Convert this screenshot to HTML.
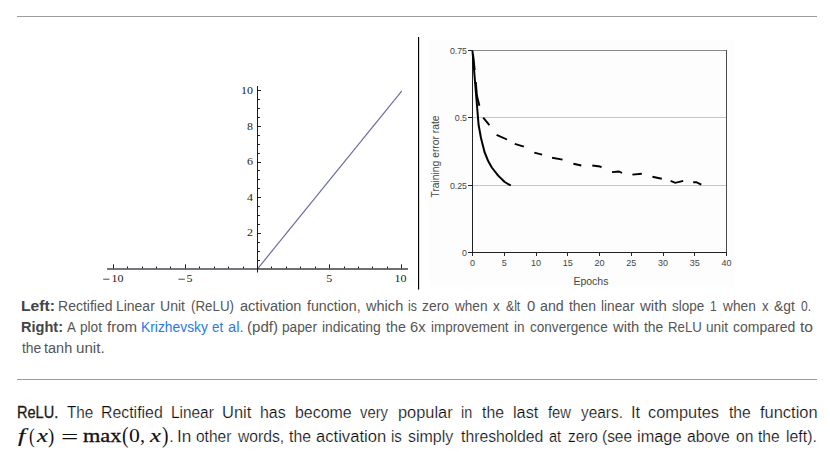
<!DOCTYPE html>
<html><head><meta charset="utf-8"><title>ReLU</title>
<style>
html,body{margin:0;padding:0;background:#fff;}
body{width:830px;height:452px;position:relative;overflow:hidden;font-family:"Liberation Sans",sans-serif;}
.hr{position:absolute;left:17px;width:800px;height:1px;background:#9c9c9c;}
.w{position:absolute;white-space:nowrap;transform-origin:0 0;line-height:normal;margin:0;padding:0;}
.c{font-size:14px;color:#555;}
b.c{color:#444;}
a.c{color:#2a7ae2;text-decoration:none;}
.p{font-size:16px;color:#0a0a0a;-webkit-text-stroke:0.22px #fff;}
b.p{color:#1a1a1a;}
b.med{font-weight:normal;-webkit-text-stroke:0.3px #1a1a1a;}
.m{position:absolute;white-space:nowrap;font-family:"Liberation Serif",serif;color:#111;line-height:normal;}
svg{position:absolute;left:0;top:0;}
</style></head><body>
<div class="hr" style="top:16px"></div>
<svg width="830" height="300" viewBox="0 0 830 300">
<rect x="429" y="40" width="306" height="247.3" fill="#fdfdfd"/>
<rect x="418" y="37" width="1.15" height="252.6" fill="#000"/>
<polyline points="257.5,268.9 401.7,91.2" fill="none" stroke="#6c6ca4" stroke-width="1.2"/>
<line x1="107" y1="268.9" x2="257.5" y2="268.9" stroke="#2e2e44" stroke-width="1.55" stroke-opacity="0.88"/>
<line x1="257.5" y1="268.9" x2="408" y2="268.9" stroke="#2a2a2a" stroke-width="1.5" stroke-opacity="0.9"/>
<g stroke="#1c1c1c" stroke-width="1">
<line x1="257.5" y1="86" x2="257.5" y2="272.5"/>
<line x1="113.5" y1="268.4" x2="113.5" y2="264.3"/>
<line x1="127.5" y1="268.4" x2="127.5" y2="266.5"/>
<line x1="142.5" y1="268.4" x2="142.5" y2="266.5"/>
<line x1="156.5" y1="268.4" x2="156.5" y2="266.5"/>
<line x1="170.5" y1="268.4" x2="170.5" y2="266.5"/>
<line x1="185.5" y1="268.4" x2="185.5" y2="264.3"/>
<line x1="199.5" y1="268.4" x2="199.5" y2="266.5"/>
<line x1="214.5" y1="268.4" x2="214.5" y2="266.5"/>
<line x1="228.5" y1="268.4" x2="228.5" y2="266.5"/>
<line x1="243.5" y1="268.4" x2="243.5" y2="266.5"/>
<line x1="271.5" y1="268.4" x2="271.5" y2="266.5"/>
<line x1="286.5" y1="268.4" x2="286.5" y2="266.5"/>
<line x1="300.5" y1="268.4" x2="300.5" y2="266.5"/>
<line x1="315.5" y1="268.4" x2="315.5" y2="266.5"/>
<line x1="329.5" y1="268.4" x2="329.5" y2="264.3"/>
<line x1="344.5" y1="268.4" x2="344.5" y2="266.5"/>
<line x1="358.5" y1="268.4" x2="358.5" y2="266.5"/>
<line x1="372.5" y1="268.4" x2="372.5" y2="266.5"/>
<line x1="387.5" y1="268.4" x2="387.5" y2="266.5"/>
<line x1="401.5" y1="268.4" x2="401.5" y2="264.3"/>
<line x1="258" y1="260.5" x2="259.9" y2="260.5"/>
<line x1="258" y1="251.5" x2="259.9" y2="251.5"/>
<line x1="258" y1="242.5" x2="259.9" y2="242.5"/>
<line x1="258" y1="233.5" x2="260.9" y2="233.5"/>
<line x1="258" y1="224.5" x2="259.9" y2="224.5"/>
<line x1="258" y1="215.5" x2="259.9" y2="215.5"/>
<line x1="258" y1="206.5" x2="259.9" y2="206.5"/>
<line x1="258" y1="197.5" x2="260.9" y2="197.5"/>
<line x1="258" y1="188.5" x2="259.9" y2="188.5"/>
<line x1="258" y1="179.5" x2="259.9" y2="179.5"/>
<line x1="258" y1="170.5" x2="259.9" y2="170.5"/>
<line x1="258" y1="162.5" x2="260.9" y2="162.5"/>
<line x1="258" y1="153.5" x2="259.9" y2="153.5"/>
<line x1="258" y1="144.5" x2="259.9" y2="144.5"/>
<line x1="258" y1="135.5" x2="259.9" y2="135.5"/>
<line x1="258" y1="126.5" x2="260.9" y2="126.5"/>
<line x1="258" y1="117.5" x2="259.9" y2="117.5"/>
<line x1="258" y1="108.5" x2="259.9" y2="108.5"/>
<line x1="258" y1="99.5" x2="259.9" y2="99.5"/>
<line x1="258" y1="90.5" x2="260.9" y2="90.5"/>
</g>
<g font-family="Liberation Serif, serif" font-size="10" fill="#1c1c1c" text-anchor="end">
<text transform="translate(252.9,236.4) scale(1.2,1)">2</text>
<text transform="translate(252.9,200.8) scale(1.2,1)">4</text>
<text transform="translate(252.9,165.2) scale(1.2,1)">6</text>
<text transform="translate(252.9,129.6) scale(1.2,1)">8</text>
<text transform="translate(252.9,94.0) scale(1.2,1)">10</text>
</g>
<g font-family="Liberation Serif, serif" font-size="10" fill="#1c1c1c" text-anchor="middle">
<text transform="translate(117.4,281.7) scale(1.2,1)">10</text>
<text transform="translate(189.5,281.7) scale(1.2,1)">5</text>
<text transform="translate(329.2,281.7) scale(1.2,1)">5</text>
<text transform="translate(400.5,281.7) scale(1.2,1)">10</text>
</g>
<rect x="103.2" y="278.75" width="6.2" height="0.85" fill="#2a2a2a"/>
<rect x="178.4" y="278.75" width="6.4" height="0.85" fill="#2a2a2a"/>
<g shape-rendering="crispEdges" stroke-width="1">
<line x1="473" y1="117.5" x2="727" y2="117.5" stroke="#c6c6c6"/>
<line x1="473" y1="185.5" x2="727" y2="185.5" stroke="#c6c6c6"/>
<line x1="473" y1="50.5" x2="727" y2="50.5" stroke="#8a8a8a"/>
<line x1="726.5" y1="50" x2="726.5" y2="253" stroke="#4a4a4a"/>
<line x1="472.5" y1="50" x2="472.5" y2="253" stroke="#222"/>
<line x1="468" y1="252.5" x2="727" y2="252.5" stroke="#222"/>
<line x1="468" y1="50.5" x2="472" y2="50.5" stroke="#222"/>
<line x1="468" y1="117.5" x2="472" y2="117.5" stroke="#222"/>
<line x1="468" y1="185.5" x2="472" y2="185.5" stroke="#222"/>
<line x1="472.5" y1="253" x2="472.5" y2="255.6" stroke="#222"/>
<line x1="504.5" y1="253" x2="504.5" y2="255.6" stroke="#222"/>
<line x1="536.5" y1="253" x2="536.5" y2="255.6" stroke="#222"/>
<line x1="567.5" y1="253" x2="567.5" y2="255.6" stroke="#222"/>
<line x1="599.5" y1="253" x2="599.5" y2="255.6" stroke="#222"/>
<line x1="631.5" y1="253" x2="631.5" y2="255.6" stroke="#222"/>
<line x1="663.5" y1="253" x2="663.5" y2="255.6" stroke="#222"/>
<line x1="694.5" y1="253" x2="694.5" y2="255.6" stroke="#222"/>
<line x1="726.5" y1="253" x2="726.5" y2="255.6" stroke="#222"/>
</g>
<polyline points="472.5,51 478.6,125 481,138 484.5,152 488.3,161.3 491.8,167.5 498.2,175.6 504.7,182 510.8,185.5" fill="none" stroke="#000" stroke-width="2" stroke-linejoin="round"/>
<g stroke="#000" stroke-width="1.9" fill="none">
<polyline points="473,54 474.7,70"/>
<polyline points="475.8,82 476.9,95.6 479.4,105.7"/>
<polyline points="483.2,117.6 489.4,125.1"/>
<polyline points="496.6,134.8 507,139.5"/>
<polyline points="514.8,143.9 523.9,146.7"/>
<polyline points="534.3,152.7 542.1,154.6"/>
<polyline points="552.1,157.7 562.5,159.6"/>
<polyline points="573.4,163.7 581.3,165.5"/>
<polyline points="592.3,165.5 600,166.5 601.5,167.4"/>
<polyline points="612,172.1 619,171.5 622,173"/>
<polyline points="632.4,174.6 641.8,173.7"/>
<polyline points="652.4,176.8 661.8,178.7"/>
<polyline points="670.6,180.9 675.3,182.8 683.2,180.9"/>
<polyline points="693.2,182.2 696.3,182.2 701.3,184.7"/>
</g>
<g font-family="Liberation Sans, sans-serif" font-size="8.8" fill="#454545" text-anchor="end">
<text x="467" y="53.5">0.75</text>
<text x="467" y="120.5">0.5</text>
<text x="467" y="188.5">0.25</text>
<text x="467" y="255.5">0</text>
</g>
<g font-family="Liberation Sans, sans-serif" font-size="9" fill="#454545" text-anchor="middle">
<text x="472.5" y="265.8">0</text>
<text x="504.2" y="265.8">5</text>
<text x="536.0" y="265.8">10</text>
<text x="567.8" y="265.8">15</text>
<text x="599.5" y="265.8">20</text>
<text x="631.2" y="265.8">25</text>
<text x="663.0" y="265.8">30</text>
<text x="694.8" y="265.8">35</text>
<text x="726.5" y="265.8">40</text>
</g>
<text x="590.9" y="284.7" font-family="Liberation Sans, sans-serif" font-size="10.5" fill="#454545" text-anchor="middle">Epochs</text>
<text transform="translate(439.3,156.5) rotate(-90)" font-family="Liberation Sans, sans-serif" font-size="10.3" fill="#454545" text-anchor="middle">Training error rate</text>
</svg>
<b class="w c" style="left:20.65px;top:297.60px;transform-origin:0 13px;transform:scale(1.1198,1.06)">Left:</b>
<span class="w c" style="left:57.75px;top:297.60px;transform-origin:0 13px;transform:scale(1.0016,1.06)">Rectified</span>
<span class="w c" style="left:116.26px;top:297.60px;transform-origin:0 13px;transform:scale(0.9964,1.06)">Linear</span>
<span class="w c" style="left:160.22px;top:297.60px;transform-origin:0 13px;transform:scale(1.0036,1.06)">Unit</span>
<span class="w c" style="left:190.87px;top:297.60px;transform-origin:0 13px;transform:scale(0.9543,1.06)">(ReLU)</span>
<span class="w c" style="left:239.58px;top:297.60px;transform-origin:0 13px;transform:scale(1.0392,1.06)">activation</span>
<span class="w c" style="left:306.80px;top:297.60px;transform-origin:0 13px;transform:scale(1.0123,1.06)">function,</span>
<span class="w c" style="left:365.52px;top:297.60px;transform-origin:0 13px;transform:scale(1.0400,1.06)">which</span>
<span class="w c" style="left:407.78px;top:297.60px;transform-origin:0 13px;transform:scale(0.8768,1.06)">is</span>
<span class="w c" style="left:422.24px;top:297.60px;transform-origin:0 13px;transform:scale(0.9893,1.06)">zero</span>
<span class="w c" style="left:455.02px;top:297.60px;transform-origin:0 13px;transform:scale(0.9699,1.06)">when</span>
<span class="w c" style="left:493.05px;top:297.60px;transform-origin:0 13px;transform:scale(0.9713,1.06)">x</span>
<span class="w c" style="left:505.87px;top:297.60px;transform-origin:0 13px;transform:scale(0.8702,1.06)">&amp;lt</span>
<span class="w c" style="left:526.52px;top:297.60px;transform-origin:0 13px;transform:scale(1.0609,1.06)">0</span>
<span class="w c" style="left:540.20px;top:297.60px;transform-origin:0 13px;transform:scale(1.0155,1.06)">and</span>
<span class="w c" style="left:569.49px;top:297.60px;transform-origin:0 13px;transform:scale(0.9951,1.06)">then</span>
<span class="w c" style="left:601.18px;top:297.60px;transform-origin:0 13px;transform:scale(0.9769,1.06)">linear</span>
<span class="w c" style="left:640.32px;top:297.60px;transform-origin:0 13px;transform:scale(1.0747,1.06)">with</span>
<span class="w c" style="left:672.32px;top:297.60px;transform-origin:0 13px;transform:scale(0.9644,1.06)">slope</span>
<span class="w c" style="left:710.24px;top:297.60px;transform-origin:0 13px;transform:scale(0.8600,1.06)">1</span>
<span class="w c" style="left:722.72px;top:297.60px;transform-origin:0 13px;transform:scale(0.9791,1.06)">when</span>
<span class="w c" style="left:761.55px;top:297.60px;transform-origin:0 13px;transform:scale(0.9414,1.06)">x</span>
<span class="w c" style="left:774.41px;top:297.60px;transform-origin:0 13px;transform:scale(0.9893,1.06)">&amp;gt</span>
<span class="w c" style="left:801.04px;top:297.60px;transform-origin:0 13px;transform:scale(0.8600,1.06)">0.</span>
<b class="w c" style="left:21.13px;top:318.60px;transform-origin:0 13px;transform:scale(1.0408,1.06)">Right:</b>
<span class="w c" style="left:66.87px;top:318.60px;transform-origin:0 13px;transform:scale(0.9479,1.06)">A</span>
<span class="w c" style="left:80.42px;top:318.60px;transform-origin:0 13px;transform:scale(0.9737,1.06)">plot</span>
<span class="w c" style="left:107.39px;top:318.60px;transform-origin:0 13px;transform:scale(1.0752,1.06)">from</span>
<a class="w c" style="left:140.86px;top:318.60px;transform-origin:0 13px;transform:scale(0.9894,1.06)">Krizhevsky</a>
<a class="w c" style="left:212.24px;top:318.60px;transform-origin:0 13px;transform:scale(0.9473,1.06)">et</a>
<a class="w c" style="left:227.68px;top:318.60px;transform-origin:0 13px;transform:scale(1.0455,1.06)">al.</a>
<span class="w c" style="left:247.17px;top:318.60px;transform-origin:0 13px;transform:scale(1.0758,1.06)">(pdf)</span>
<span class="w c" style="left:282.12px;top:318.60px;transform-origin:0 13px;transform:scale(0.9777,1.06)">paper</span>
<span class="w c" style="left:322.27px;top:318.60px;transform-origin:0 13px;transform:scale(0.9945,1.06)">indicating</span>
<span class="w c" style="left:385.98px;top:318.60px;transform-origin:0 13px;transform:scale(1.0200,1.06)">the</span>
<span class="w c" style="left:410.15px;top:318.60px;transform-origin:0 13px;transform:scale(1.0485,1.06)">6x</span>
<span class="w c" style="left:431.00px;top:318.60px;transform-origin:0 13px;transform:scale(0.9590,1.06)">improvement</span>
<span class="w c" style="left:514.49px;top:318.60px;transform-origin:0 13px;transform:scale(0.9723,1.06)">in</span>
<span class="w c" style="left:530.22px;top:318.60px;transform-origin:0 13px;transform:scale(0.9690,1.06)">convergence</span>
<span class="w c" style="left:613.12px;top:318.60px;transform-origin:0 13px;transform:scale(1.0538,1.06)">with</span>
<span class="w c" style="left:643.79px;top:318.60px;transform-origin:0 13px;transform:scale(0.9931,1.06)">the</span>
<span class="w c" style="left:667.62px;top:318.60px;transform-origin:0 13px;transform:scale(0.9445,1.06)">ReLU</span>
<span class="w c" style="left:705.61px;top:318.60px;transform-origin:0 13px;transform:scale(0.9740,1.06)">unit</span>
<span class="w c" style="left:733.31px;top:318.60px;transform-origin:0 13px;transform:scale(0.9990,1.06)">compared</span>
<span class="w c" style="left:799.96px;top:318.60px;transform-origin:0 13px;transform:scale(1.1125,1.06)">to</span>
<span class="w c" style="left:21.59px;top:339.60px;transform-origin:0 13px;transform:scale(0.9931,1.06)">the</span>
<span class="w c" style="left:43.88px;top:339.60px;transform-origin:0 13px;transform:scale(1.0372,1.06)">tanh</span>
<span class="w c" style="left:75.51px;top:339.60px;transform-origin:0 13px;transform:scale(1.0834,1.06)">unit.</span>
<div class="hr" style="top:379px"></div>
<span class="m" style="font-weight:normal;font-style:italic;-webkit-text-stroke:0.2px #111;font-size:18.3px;left:17.81px;top:426.47px;transform-origin:0 16px;transform:scale(1.4311,1.0846)">f</span>
<span class="m" style="font-weight:normal;font-size:18.3px;left:28.65px;top:426.83px;transform-origin:0 16px;transform:scale(0.9362,1.1993)">(</span>
<span class="m" style="font-weight:normal;font-style:italic;-webkit-text-stroke:0.2px #111;font-size:18.3px;left:36.50px;top:426.20px;transform-origin:0 16px;transform:scale(1.3274,1.0000)">x</span>
<span class="m" style="font-weight:normal;font-size:18.3px;left:48.30px;top:426.83px;transform-origin:0 16px;transform:scale(1.0213,1.1993)">)</span>
<span class="m" style="font-weight:normal;font-size:18.3px;left:61.27px;top:427.91px;transform-origin:0 16px;transform:scale(1.6793,1.1366)">=</span>
<span class="m" style="font-weight:normal;-webkit-text-stroke:0.3px #111;font-size:18.3px;left:83.03px;top:426.20px;transform-origin:0 16px;transform:scale(1.2201,1.0000)">max</span>
<span class="m" style="font-weight:normal;font-size:18.3px;left:121.74px;top:426.80px;transform-origin:0 16px;transform:scale(1.0638,1.2053)">(</span>
<span class="m" style="font-weight:normal;font-size:18.3px;left:129.17px;top:426.22px;transform-origin:0 16px;transform:scale(1.1862,1.0203)">0</span>
<span class="m" style="font-weight:normal;font-size:18.3px;left:140.33px;top:426.20px;transform-origin:0 16px;transform:scale(1.1008,1.0000)">,</span>
<span class="m" style="font-weight:normal;font-style:italic;-webkit-text-stroke:0.2px #111;font-size:18.3px;left:149.60px;top:426.20px;transform-origin:0 16px;transform:scale(1.3395,1.0000)">x</span>
<span class="m" style="font-weight:normal;font-size:18.3px;left:161.67px;top:426.80px;transform-origin:0 16px;transform:scale(1.0638,1.2053)">)</span>
<span class="w p" style="left:169.2px;top:427.6px">.</span>
<b class="w p med" style="left:16.91px;top:403.60px;transform-origin:0 14px;transform:scale(0.9089,1.0)">ReLU.</b>
<span class="w p" style="left:66.56px;top:403.60px;transform-origin:0 14px;transform:scale(0.9547,1.0)">The</span>
<span class="w p" style="left:101.10px;top:403.60px;transform-origin:0 14px;transform:scale(0.9915,1.0)">Rectified</span>
<span class="w p" style="left:170.64px;top:403.60px;transform-origin:0 14px;transform:scale(0.9627,1.0)">Linear</span>
<span class="w p" style="left:222.23px;top:403.60px;transform-origin:0 14px;transform:scale(1.0295,1.0)">Unit</span>
<span class="w p" style="left:260.40px;top:403.60px;transform-origin:0 14px;transform:scale(0.9955,1.0)">has</span>
<span class="w p" style="left:294.57px;top:403.60px;transform-origin:0 14px;transform:scale(0.9967,1.0)">become</span>
<span class="w p" style="left:359.85px;top:403.60px;transform-origin:0 14px;transform:scale(0.9257,1.0)">very</span>
<span class="w p" style="left:397.74px;top:403.60px;transform-origin:0 14px;transform:scale(1.0235,1.0)">popular</span>
<span class="w p" style="left:461.24px;top:403.60px;transform-origin:0 14px;transform:scale(0.8991,1.0)">in</span>
<span class="w p" style="left:482.16px;top:403.60px;transform-origin:0 14px;transform:scale(0.9864,1.0)">the</span>
<span class="w p" style="left:512.90px;top:403.60px;transform-origin:0 14px;transform:scale(1.0167,1.0)">last</span>
<span class="w p" style="left:547.99px;top:403.60px;transform-origin:0 14px;transform:scale(0.9227,1.0)">few</span>
<span class="w p" style="left:580.66px;top:403.60px;transform-origin:0 14px;transform:scale(0.9627,1.0)">years.</span>
<span class="w p" style="left:631.48px;top:403.60px;transform-origin:0 14px;transform:scale(1.0278,1.0)">It</span>
<span class="w p" style="left:648.40px;top:403.60px;transform-origin:0 14px;transform:scale(1.0234,1.0)">computes</span>
<span class="w p" style="left:728.66px;top:403.60px;transform-origin:0 14px;transform:scale(0.9817,1.0)">the</span>
<span class="w p" style="left:759.57px;top:403.60px;transform-origin:0 14px;transform:scale(1.0279,1.0)">function</span>
<span class="w p" style="left:177.42px;top:427.60px;transform-origin:0 14px;transform:scale(1.0713,1.0)">In</span>
<span class="w p" style="left:196.25px;top:427.60px;transform-origin:0 14px;transform:scale(0.9682,1.0)">other</span>
<span class="w p" style="left:237.92px;top:427.60px;transform-origin:0 14px;transform:scale(0.9801,1.0)">words,</span>
<span class="w p" style="left:289.26px;top:427.60px;transform-origin:0 14px;transform:scale(0.9864,1.0)">the</span>
<span class="w p" style="left:315.69px;top:427.60px;transform-origin:0 14px;transform:scale(1.0383,1.0)">activation</span>
<span class="w p" style="left:391.40px;top:427.60px;transform-origin:0 14px;transform:scale(0.9388,1.0)">is</span>
<span class="w p" style="left:408.36px;top:427.60px;transform-origin:0 14px;transform:scale(0.9987,1.0)">simply</span>
<span class="w p" style="left:461.06px;top:427.60px;transform-origin:0 14px;transform:scale(0.9849,1.0)">thresholded</span>
<span class="w p" style="left:548.78px;top:427.60px;transform-origin:0 14px;transform:scale(0.9086,1.0)">at</span>
<span class="w p" style="left:567.58px;top:427.60px;transform-origin:0 14px;transform:scale(0.9596,1.0)">zero</span>
<span class="w p" style="left:602.14px;top:427.60px;transform-origin:0 14px;transform:scale(0.9653,1.0)">(see</span>
<span class="w p" style="left:636.91px;top:427.60px;transform-origin:0 14px;transform:scale(1.0216,1.0)">image</span>
<span class="w p" style="left:687.13px;top:427.60px;transform-origin:0 14px;transform:scale(0.9833,1.0)">above</span>
<span class="w p" style="left:735.74px;top:427.60px;transform-origin:0 14px;transform:scale(0.9760,1.0)">on</span>
<span class="w p" style="left:758.46px;top:427.60px;transform-origin:0 14px;transform:scale(0.9723,1.0)">the</span>
<span class="w p" style="left:785.93px;top:427.60px;transform-origin:0 14px;transform:scale(0.9903,1.0)">left).</span>
</body></html>
